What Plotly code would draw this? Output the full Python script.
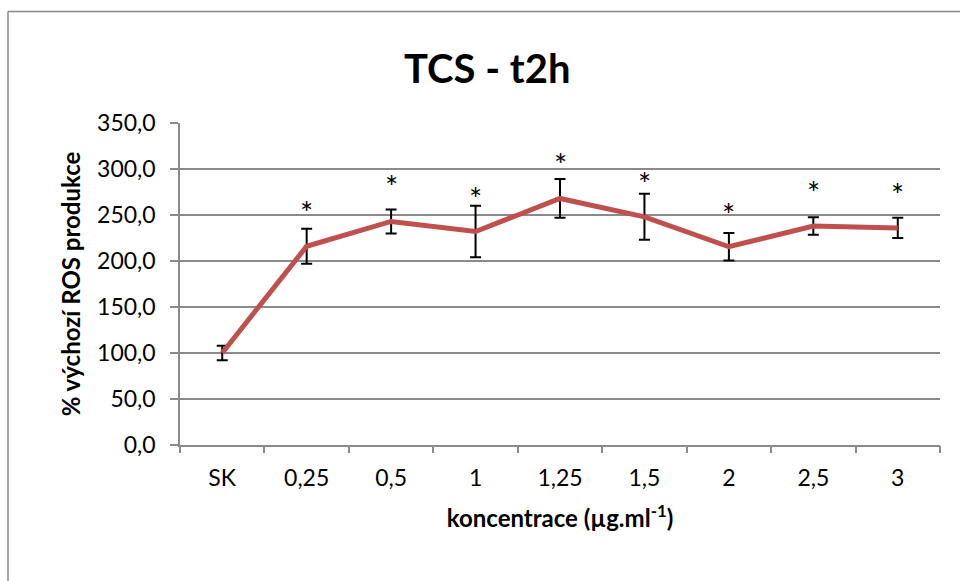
import plotly.graph_objects as go

categories = ["SK", "0,25", "0,5", "1", "1,25", "1,5", "2", "2,5", "3"]
values = [100.0, 216.0, 243.0, 232.0, 268.0, 248.0, 215.5, 238.0, 236.0]
errors = [8.0, 19.0, 13.0, 28.0, 21.0, 25.0, 15.0, 9.5, 11.0]
star_labels = ["", "*", "*", "*", "*", "*", "*", "*", "*"]
star_y = [None, 253.0, 281.0, 268.0, 305.0, 285.0, 251.0, 275.0, 273.0]
y_ticks = [0, 50, 100, 150, 200, 250, 300, 350]

FONT = "Lato, 'Open Sans', sans-serif"
GRID = "#8a8a8a"

fig = go.Figure()
fig.add_trace(go.Scatter(
    x=list(range(len(categories))), y=values, mode="lines",
    line=dict(color="#C0504D", width=5),
    error_y=dict(type="data", array=errors, symmetric=True,
                 color="black", thickness=2, width=5.5),
    showlegend=False, hoverinfo="skip",
))

for i, (t, yv) in enumerate(zip(star_labels, star_y)):
    if t and yv is not None:
        fig.add_annotation(x=i, y=yv, xref="x", yref="y", text=t, showarrow=False,
                           font=dict(family=FONT, size=31, color="black"),
                           yanchor="middle")

fig.add_annotation(x=0.404, y=1.17, xref="paper", yref="paper", text="<b>TCS - t2h</b>",
                   showarrow=False, font=dict(family=FONT, size=40, color="black"),
                   xanchor="center", yanchor="middle")

# chart border (top and left edges)
fig.add_shape(type="line", xref="paper", yref="paper", x0=-0.2263, x1=1.03,
              y0=1.3465, y1=1.3465, line=dict(color="#868686", width=1.5))
fig.add_shape(type="line", xref="paper", yref="paper", x0=-0.2263, x1=-0.2263,
              y0=1.3465, y1=-0.45, line=dict(color="#868686", width=1.5))

fig.update_layout(
    width=960, height=581,
    margin=dict(l=180, r=20, t=123, b=136),
    paper_bgcolor="white", plot_bgcolor="white",
    separators=", ",
    font=dict(family=FONT, size=23, color="black"),
    xaxis=dict(
        range=[-0.5, 8.5],
        tickvals=list(range(len(categories))), ticktext=categories,
        showgrid=False, showline=True, linecolor=GRID, linewidth=1.5,
        ticks="", ticklabelstandoff=12,
        tickfont=dict(family=FONT, size=23, color="black"),
        zeroline=False,
        title=dict(text="<b>koncentrace (µg.ml<sup>-1</sup>)</b>",
                   font=dict(family=FONT, size=24, color="black"), standoff=20),
    ),
    xaxis2=dict(
        overlaying="x", range=[-0.5, 8.5],
        tickvals=[k - 0.5 for k in range(len(categories) + 1)], showticklabels=False,
        showgrid=False, showline=False, zeroline=False,
        ticks="outside", ticklen=7, tickcolor=GRID, tickwidth=1.5, side="bottom",
    ),
    yaxis=dict(
        range=[0, 350], tickvals=y_ticks, tickformat=".1f",
        showgrid=True, gridcolor=GRID, gridwidth=1.5,
        zeroline=False, showline=True, linecolor=GRID, linewidth=1.5,
        ticks="outside", ticklen=8, tickcolor=GRID, tickwidth=1.5, ticklabelstandoff=10,
        tickfont=dict(family=FONT, size=23, color="black"),
        title=dict(text="<b>% výchozí ROS produkce</b>",
                   font=dict(family=FONT, size=24, color="black"), standoff=10),
    ),
)
# invisible trace to activate the tick-only axis
fig.add_trace(go.Scatter(x=[0], y=[0], xaxis="x2", mode="markers",
                         marker=dict(opacity=0), showlegend=False, hoverinfo="skip"))

fig.write_html("out.html")
